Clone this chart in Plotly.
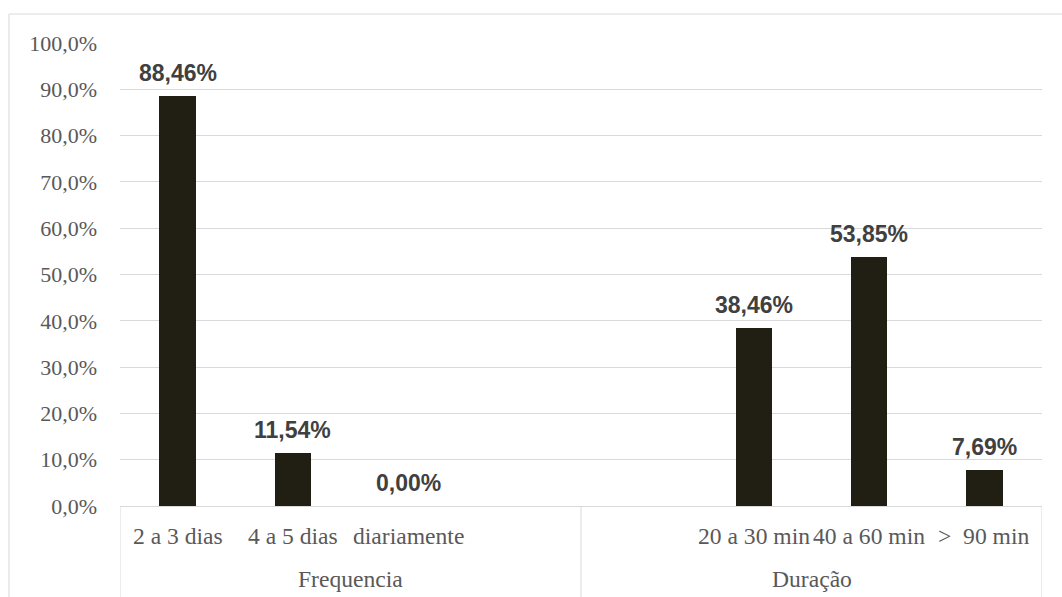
import plotly.graph_objects as go

# Survey results: weekly frequency and session duration (share of respondents, %)
groups = ["Frequencia", "Duração"]
group_categories = [
    ["2 a 3 dias", "4 a 5 dias", "diariamente", ""],
    ["", "20 a 30 min", "40 a 60 min", ">  90 min"],
]
group_values = [
    [88.46, 11.54, 0.00, None],
    [None, 38.46, 53.85, 7.69],
]
y_ticks = [0, 10, 20, 30, 40, 50, 60, 70, 80, 90, 100]

BAR_COLOR = "#211e13"
GRID_COLOR = "#d9d9d9"
TICK_COLOR = "#595959"
LABEL_COLOR = "#404040"
SERIF = "Liberation Serif, Times New Roman, serif"
SANS = "Liberation Sans, Arial, sans-serif"


def pct(v, decimals):
    return f"{v:.{decimals}f}".replace(".", ",") + "%"


# Flatten the grouped categories onto one numeric axis
xs, labels, values = [], [], []
for cats, vals in zip(group_categories, group_values):
    for c, v in zip(cats, vals):
        xs.append(len(xs))
        labels.append(c)
        values.append(v)

fig = go.Figure()
fig.add_trace(go.Bar(
    x=xs, y=values, width=0.315,
    marker=dict(color=BAR_COLOR, line=dict(width=0)),
    hoverinfo="skip", showlegend=False,
))

annotations = []
# value labels above each bar
for x, v in zip(xs, values):
    if v is None:
        continue
    annotations.append(dict(
        x=x, y=v, xref="x", yref="y", text=f"<b>{pct(v, 2)}</b>",
        showarrow=False, yanchor="bottom", yshift=8,
        font=dict(family=SANS, size=23, color=LABEL_COLOR),
    ))
# category labels under the axis
for x, lab in zip(xs, labels):
    if lab:
        annotations.append(dict(
            x=x, y=0, xref="x", yref="paper", text=lab, showarrow=False,
            yanchor="middle", yshift=-30,
            font=dict(family=SERIF, size=23.6, color=TICK_COLOR),
        ))

shapes = []
start = 0
bounds = [-0.5]
for g, cats in zip(groups, group_categories):
    n = len(cats)
    center = start + (n - 1) / 2
    annotations.append(dict(
        x=center, y=0, xref="x", yref="paper", text=g, showarrow=False,
        yanchor="middle", yshift=-73,
        font=dict(family=SERIF, size=23.6, color=TICK_COLOR),
    ))
    start += n
    bounds.append(start - 0.5)

# group separators hanging below the axis
for b in bounds:
    shapes.append(dict(type="line", xref="x", yref="paper", x0=b, x1=b,
                       y0=0, y1=-0.25, line=dict(color=GRID_COLOR, width=1)))
# chart-area border
shapes.append(dict(type="rect", xref="paper", yref="paper",
                   x0=-0.1204, x1=1.05, y0=-0.3, y1=1.0626,
                   line=dict(color=GRID_COLOR, width=1), layer="below"))

fig.update_layout(
    width=1062, height=597,
    margin=dict(l=120, r=20, t=43, b=91),
    paper_bgcolor="white", plot_bgcolor="white",
    bargap=0,
    xaxis=dict(range=[-0.5, len(xs) - 0.5], showticklabels=False,
               showgrid=False, zeroline=False, showline=True,
               linecolor=GRID_COLOR, linewidth=1, fixedrange=True),
    yaxis=dict(range=[0, 100], tickvals=y_ticks,
               ticktext=[pct(t, 1) for t in y_ticks],
               tickfont=dict(family=SERIF, size=22, color=TICK_COLOR),
               showgrid=True, gridcolor=GRID_COLOR, gridwidth=1,
               zeroline=False, showline=False, ticks="",
               ticklabelstandoff=22, fixedrange=True),
    annotations=annotations,
    shapes=shapes,
)

fig.write_html("out.html")
